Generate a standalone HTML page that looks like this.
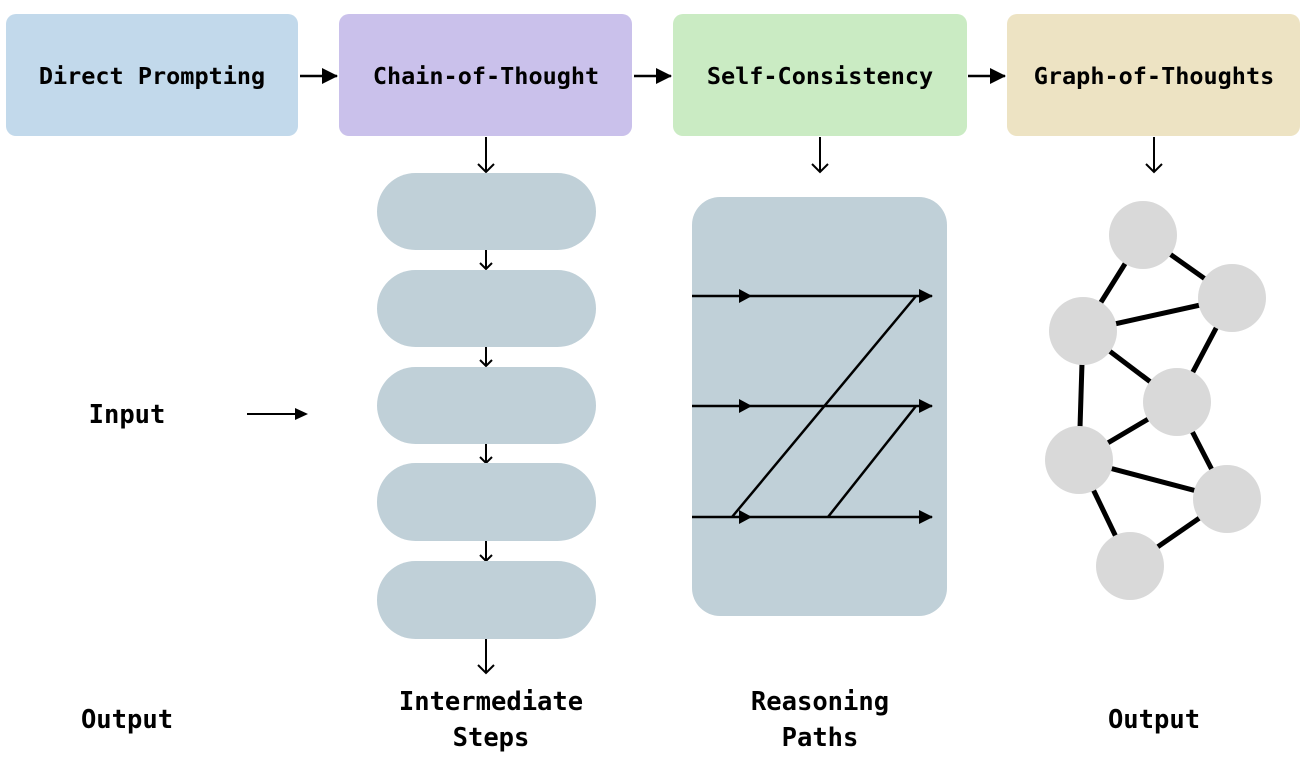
<!DOCTYPE html>
<html><head><meta charset="utf-8"><style>
html,body{margin:0;padding:0;background:#fff;width:1315px;height:768px;overflow:hidden}
text{font-family:"DejaVu Sans Mono","Liberation Mono",monospace;font-weight:bold;font-size:23.5px;fill:#000}
text.big{font-size:25.5px}
</style></head><body>
<svg width="1315" height="768" viewBox="0 0 1315 768" xmlns="http://www.w3.org/2000/svg">
<defs>
<marker id="ah2" markerWidth="16" markerHeight="16" refX="15" refY="8" orient="auto" markerUnits="userSpaceOnUse">
<path d="M0,0 L16,8 L0,16 Z" fill="#000"/></marker>
</defs>
<rect x="6" y="14" width="292" height="122" rx="10" fill="#c2d9eb"/>
<rect x="339" y="14" width="293" height="122" rx="10" fill="#cac1eb"/>
<rect x="673" y="14" width="294" height="122" rx="10" fill="#caebc3"/>
<rect x="1007" y="14" width="293" height="122" rx="10" fill="#ede3c3"/>
<text x="152" y="84" text-anchor="middle">Direct Prompting</text>
<text x="486" y="84" text-anchor="middle">Chain-of-Thought</text>
<text x="820" y="84" text-anchor="middle">Self-Consistency</text>
<text x="1154" y="84" text-anchor="middle">Graph-of-Thoughts</text>
<g stroke="#000" stroke-width="2.5" fill="none">
<line x1="300" y1="76" x2="337" y2="76" marker-end="url(#ah2)"/>
<line x1="634" y1="76" x2="671" y2="76" marker-end="url(#ah2)"/>
<line x1="968" y1="76" x2="1005" y2="76" marker-end="url(#ah2)"/>
</g>
<g stroke="#000" stroke-width="2" fill="none">
<path d="M486 137 V172 M478 164 L486 172 L494 164"/>
<path d="M820 137 V172 M812 164 L820 172 L828 164"/>
<path d="M1154 137 V172 M1146 164 L1154 172 L1162 164"/>
<path d="M486 250 V269 M480 263 L486 269 L492 263"/>
<path d="M486 347 V366 M480 360 L486 366 L492 360"/>
<path d="M486 444 V463 M480 457 L486 463 L492 457"/>
<path d="M486 541 V561 M480 555 L486 561 L492 555"/>
<path d="M486 639 V673 M478 665 L486 673 L494 665"/>
</g>
<g fill="#c0d0d8">
<rect x="377" y="173" width="219" height="77" rx="38.5"/>
<rect x="377" y="270" width="219" height="77" rx="38.5"/>
<rect x="377" y="367" width="219" height="77" rx="38.5"/>
<rect x="377" y="463" width="219" height="78" rx="38.5"/>
<rect x="377" y="561" width="219" height="78" rx="38.5"/>
<rect x="692" y="197" width="255" height="419" rx="28"/>
</g>
<g stroke="#000" stroke-width="2.5" fill="none">
<line x1="692" y1="296" x2="932" y2="296"/>
<line x1="692" y1="406" x2="932" y2="406"/>
<line x1="692" y1="517" x2="932" y2="517"/>
<line x1="732" y1="517" x2="916" y2="296"/>
<line x1="828" y1="517" x2="916" y2="406"/>
</g>
<g fill="#000">
<path d="M739 289 L752 296 L739 303Z"/><path d="M919 289 L933 296 L919 303Z"/>
<path d="M739 399 L752 406 L739 413Z"/><path d="M919 399 L933 406 L919 413Z"/>
<path d="M739 510 L752 517 L739 524Z"/><path d="M919 510 L933 517 L919 524Z"/>
</g>
<line x1="247" y1="414" x2="300" y2="414" stroke="#000" stroke-width="2"/>
<path d="M295 408 L308 414 L295 420Z" fill="#000"/>
<text class="big" x="127" y="423" text-anchor="middle">Input</text>
<text class="big" x="127" y="728" text-anchor="middle">Output</text>
<text class="big" x="491" y="710" text-anchor="middle">Intermediate</text>
<text class="big" x="491" y="746" text-anchor="middle">Steps</text>
<text class="big" x="820" y="710" text-anchor="middle">Reasoning</text>
<text class="big" x="820" y="746" text-anchor="middle">Paths</text>
<text class="big" x="1154" y="728" text-anchor="middle">Output</text>
<g stroke="#000" stroke-width="5">
<line x1="1143" y1="235" x2="1232" y2="298"/>
<line x1="1143" y1="235" x2="1083" y2="331"/>
<line x1="1083" y1="331" x2="1232" y2="298"/>
<line x1="1083" y1="331" x2="1177" y2="402"/>
<line x1="1232" y1="298" x2="1177" y2="402"/>
<line x1="1083" y1="331" x2="1079" y2="460"/>
<line x1="1079" y1="460" x2="1177" y2="402"/>
<line x1="1079" y1="460" x2="1227" y2="499"/>
<line x1="1177" y1="402" x2="1227" y2="499"/>
<line x1="1079" y1="460" x2="1130" y2="566"/>
<line x1="1130" y1="566" x2="1227" y2="499"/>
</g>
<g fill="#d9d9d9">
<circle cx="1143" cy="235" r="34"/><circle cx="1232" cy="298" r="34"/>
<circle cx="1083" cy="331" r="34"/><circle cx="1177" cy="402" r="34"/>
<circle cx="1079" cy="460" r="34"/><circle cx="1227" cy="499" r="34"/>
<circle cx="1130" cy="566" r="34"/>
</g>
</svg>
</body></html>
